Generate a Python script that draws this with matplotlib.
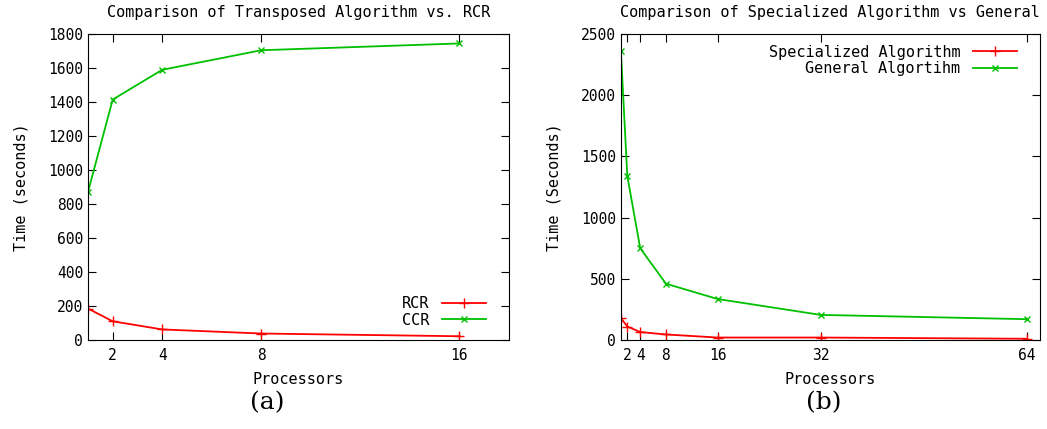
import matplotlib
matplotlib.use('Agg')
import matplotlib.pyplot as plt

# data
procs_a = [1, 2, 4, 8, 16]
rcr = [185, 110, 62, 38, 22]
ccr = [870, 1415, 1590, 1705, 1745]

procs_b = [1, 2, 4, 8, 16, 32, 64]
specialized = [180, 110, 65, 45, 20, 20, 10]
general = [2365, 1340, 750, 460, 335, 205, 170]

RED = '#ff0000'
GREEN = '#00c000'
mono = 'DejaVu Sans Mono'

fig = plt.figure(figsize=(10.47, 4.29), dpi=100)
ax1 = fig.add_axes([0.084, 0.2075, 0.402, 0.713])
ax2 = fig.add_axes([0.593, 0.2075, 0.400, 0.713])


def style(ax, xticks, yticks, xlim, ylim, title, ylabel):
    ax.set_xlim(*xlim)
    ax.set_ylim(*ylim)
    ax.set_xticks(xticks)
    ax.set_yticks(yticks)
    ax.tick_params(direction='in', top=True, right=True, length=6,
                   labelsize=10.5)
    ax.tick_params(axis='x', pad=6)
    for lab in ax.get_xticklabels() + ax.get_yticklabels():
        lab.set_family(mono)
    ax.set_title(title, family=mono, fontsize=11, pad=12)
    ax.set_xlabel('Processors', family=mono, fontsize=11, labelpad=6)
    ax.set_ylabel(ylabel, family=mono, fontsize=11, labelpad=14)


# (a)
ax1.plot(procs_a, rcr, color=RED, marker='+', ms=7, lw=1.3, label='RCR')
ax1.plot(procs_a, ccr, color=GREEN, marker='x', ms=5, lw=1.3, label='CCR')
style(ax1, [2, 4, 8, 16], range(0, 1801, 200), (1, 18), (0, 1800),
      'Comparison of Transposed Algorithm vs. RCR', 'Time (seconds)')
ax1.legend(loc='lower right', bbox_to_anchor=(0.96, 0.02), frameon=False,
           markerfirst=False, prop={'family': mono, 'size': 11},
           handlelength=2.9, labelspacing=0.1, borderaxespad=0)

# (b)
ax2.plot(procs_b, specialized, color=RED, marker='+', ms=7, lw=1.3,
         label='Specialized Algorithm')
ax2.plot(procs_b, general, color=GREEN, marker='x', ms=5, lw=1.3,
         label='General Algortihm')
style(ax2, [2, 4, 8, 16, 32, 64], range(0, 2501, 500), (1, 66), (0, 2500),
      'Comparison of Specialized Algorithm vs General', 'Time (Seconds)')
ax2.legend(loc='upper right', bbox_to_anchor=(0.96, 0.985), frameon=False,
           markerfirst=False, prop={'family': mono, 'size': 11},
           handlelength=2.9, labelspacing=0.1, borderaxespad=0)

fig.text(0.255, 0.045, '(a)', family='DejaVu Serif', fontsize=18, ha='center')
fig.text(0.787, 0.045, '(b)', family='DejaVu Serif', fontsize=18, ha='center')

fig.savefig('out.png', dpi=100)
